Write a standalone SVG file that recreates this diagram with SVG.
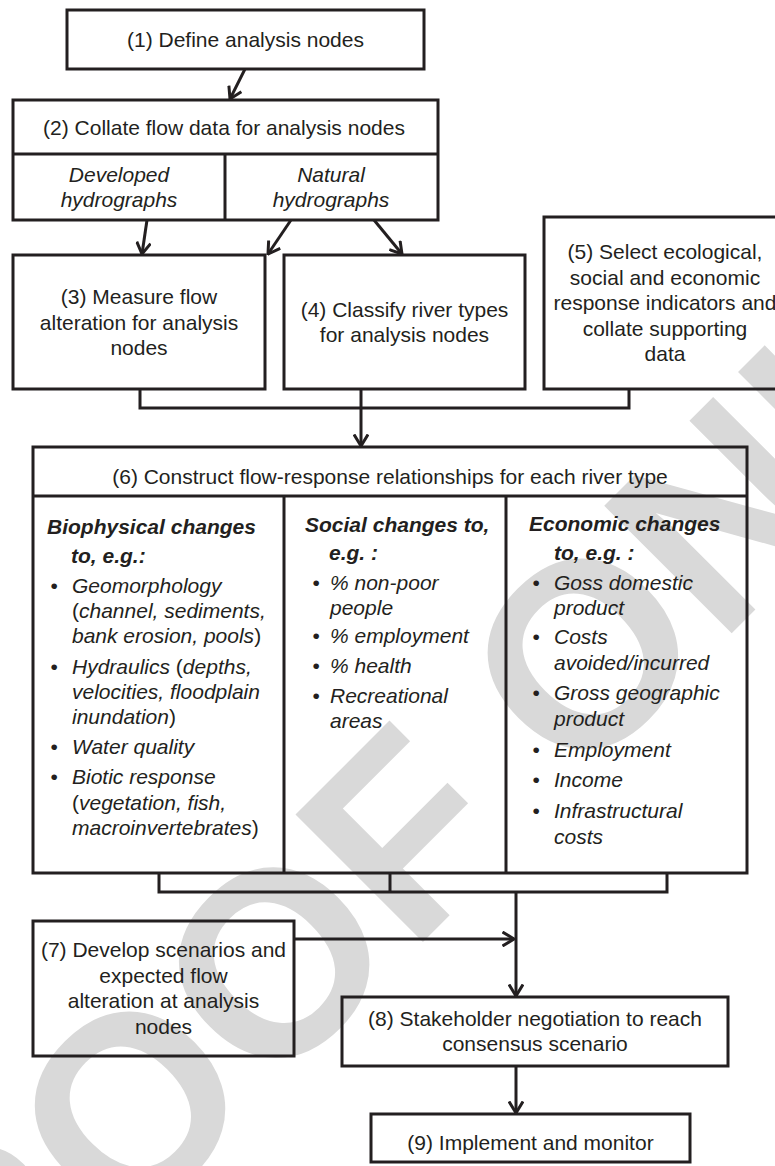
<svg xmlns="http://www.w3.org/2000/svg" width="775" height="1166" viewBox="0 0 775 1166">
<style>
.box{fill:none;stroke:#231f20;stroke-width:3}
.ln{fill:none;stroke:#231f20;stroke-width:3}
.t{font-family:"Liberation Sans",Arial,Helvetica,sans-serif;font-size:21px;fill:#231f20}
.c{text-anchor:middle}
.i{font-style:italic}
.n{font-style:normal}
.bi{font-style:italic;font-weight:bold}
.wm{font-family:"Liberation Sans",Arial,sans-serif;font-weight:bold;font-size:262px;fill:#d9d9d9}
</style>
<defs>
<marker id="ah" viewBox="0 0 14 16" refX="12.5" refY="8" markerWidth="14" markerHeight="16" markerUnits="userSpaceOnUse" orient="auto">
<path d="M1,1 L12.5,8 L1,15" fill="none" stroke="#231f20" stroke-width="3"/>
</marker>
</defs>
<rect width="775" height="1166" fill="#ffffff"/>
<text class="wm" x="-135" y="1500" transform="rotate(-45 -135 1500)">PROOF ONLY</text>

<g id="connectors">
<line class="ln" x1="245" y1="69" x2="230" y2="99" marker-end="url(#ah)"/>
<line class="ln" x1="147" y1="220" x2="142" y2="254" marker-end="url(#ah)"/>
<line class="ln" x1="291" y1="220" x2="268" y2="254" marker-end="url(#ah)"/>
<line class="ln" x1="374" y1="220" x2="402" y2="254" marker-end="url(#ah)"/>
<polyline class="ln" points="140,389 140,408 629,408 629,389"/>
<line class="ln" x1="361" y1="389" x2="361" y2="408"/>
<line class="ln" x1="361" y1="408" x2="361" y2="446" marker-end="url(#ah)"/>
<polyline class="ln" points="159,873 159,892 667,892 667,873"/>
<line class="ln" x1="390" y1="873" x2="390" y2="892"/>
<line class="ln" x1="516" y1="892" x2="516" y2="996" marker-end="url(#ah)"/>
<line class="ln" x1="294" y1="939" x2="514" y2="939" marker-end="url(#ah)"/>
<line class="ln" x1="516" y1="1066" x2="516" y2="1113" marker-end="url(#ah)"/>
</g>

<g id="node1">
<rect class="box" x="67" y="10" width="357" height="59"/>
<text class="t c" x="245.5" y="47">(1) Define analysis nodes</text>
</g>

<g id="node2">
<rect class="box" x="13" y="100" width="425" height="120"/>
<line class="ln" x1="13" y1="154" x2="438" y2="154"/>
<line class="ln" x1="225" y1="154" x2="225" y2="220"/>
<text class="t c" x="224" y="135">(2) Collate flow data for analysis nodes</text>
<text class="t c i" x="119" y="182">Developed</text>
<text class="t c i" x="119" y="207">hydrographs</text>
<text class="t c i" x="331" y="182">Natural</text>
<text class="t c i" x="331" y="207">hydrographs</text>
</g>

<g id="node3">
<rect class="box" x="13" y="255" width="252" height="134"/>
<text class="t c" x="139" y="304">(3) Measure flow</text>
<text class="t c" x="139" y="329.5">alteration for analysis</text>
<text class="t c" x="139" y="355">nodes</text>
</g>

<g id="node4">
<rect class="box" x="284" y="255" width="241" height="134"/>
<text class="t c" x="404.5" y="317">(4) Classify river types</text>
<text class="t c" x="404.5" y="342">for analysis nodes</text>
</g>

<g id="node5">
<rect class="box" x="544" y="217" width="245" height="172"/>
<text class="t c" x="665" y="259">(5) Select ecological,</text>
<text class="t c" x="665" y="284.5">social and economic</text>
<text class="t c" x="665" y="310">response indicators and</text>
<text class="t c" x="665" y="335.5">collate supporting</text>
<text class="t c" x="665" y="361">data</text>
</g>

<g id="node6">
<rect class="box" x="33" y="447" width="714" height="426"/>
<line class="ln" x1="33" y1="496" x2="747" y2="496"/>
<line class="ln" x1="284" y1="496" x2="284" y2="873"/>
<line class="ln" x1="506" y1="496" x2="506" y2="873"/>
<text class="t c" x="390" y="484">(6) Construct flow-response relationships for each river type</text>

<text class="t bi" x="47" y="534">Biophysical changes</text>
<text class="t bi" x="71" y="563">to, e.g.:</text>
<text class="t" x="50.5" y="593">•</text>
<text class="t i" x="72" y="593">Geomorphology</text>
<text class="t" x="72" y="618">(<tspan class="i">channel, sediments,</tspan></text>
<text class="t" x="72" y="643"><tspan class="i">bank erosion, pools</tspan>)</text>
<text class="t" x="50.5" y="674">•</text>
<text class="t" x="72" y="674"><tspan class="i">Hydraulics</tspan> (<tspan class="i">depths,</tspan></text>
<text class="t i" x="72" y="699">velocities, floodplain</text>
<text class="t" x="72" y="724"><tspan class="i">inundation</tspan>)</text>
<text class="t" x="50.5" y="754">•</text>
<text class="t i" x="72" y="754">Water quality</text>
<text class="t" x="50.5" y="784">•</text>
<text class="t i" x="72" y="784">Biotic response</text>
<text class="t" x="72" y="810">(<tspan class="i">vegetation, fish,</tspan></text>
<text class="t" x="72" y="835"><tspan class="i">macroinvertebrates</tspan>)</text>

<text class="t bi" x="305" y="532">Social changes to,</text>
<text class="t bi" x="329" y="560">e.g. :</text>
<text class="t" x="312.5" y="590">•</text>
<text class="t i" x="330" y="590">% non-poor</text>
<text class="t i" x="330" y="615">people</text>
<text class="t" x="312.5" y="643">•</text>
<text class="t i" x="330" y="643">% employment</text>
<text class="t" x="312.5" y="673">•</text>
<text class="t i" x="330" y="673">% health</text>
<text class="t" x="312.5" y="703">•</text>
<text class="t i" x="330" y="703">Recreational</text>
<text class="t i" x="330" y="728">areas</text>

<text class="t bi" x="529" y="531">Economic changes</text>
<text class="t bi" x="554" y="560">to, e.g. :</text>
<text class="t" x="532.5" y="590">•</text>
<text class="t i" x="554" y="590">Goss domestic</text>
<text class="t i" x="554" y="615">product</text>
<text class="t" x="532.5" y="644">•</text>
<text class="t i" x="554" y="644">Costs</text>
<text class="t i" x="554" y="670">avoided/incurred</text>
<text class="t" x="532.5" y="700">•</text>
<text class="t i" x="554" y="700">Gross geographic</text>
<text class="t i" x="554" y="726">product</text>
<text class="t" x="532.5" y="757">•</text>
<text class="t i" x="554" y="757">Employment</text>
<text class="t" x="532.5" y="787">•</text>
<text class="t i" x="554" y="787">Income</text>
<text class="t" x="532.5" y="818">•</text>
<text class="t i" x="554" y="818">Infrastructural</text>
<text class="t i" x="554" y="844">costs</text>
</g>

<g id="node7">
<rect class="box" x="33" y="921" width="261" height="135"/>
<text class="t c" x="163.5" y="957">(7) Develop scenarios and</text>
<text class="t c" x="163.5" y="982.5">expected flow</text>
<text class="t c" x="163.5" y="1008">alteration at analysis</text>
<text class="t c" x="163.5" y="1033.5">nodes</text>
</g>

<g id="node8">
<rect class="box" x="342" y="997" width="386" height="69"/>
<text class="t c" x="535" y="1026">(8) Stakeholder negotiation to reach</text>
<text class="t c" x="535" y="1051">consensus scenario</text>
</g>

<g id="node9">
<rect class="box" x="371" y="1114" width="319" height="48"/>
<text class="t c" x="530.5" y="1150">(9) Implement and monitor</text>
</g>
</svg>
